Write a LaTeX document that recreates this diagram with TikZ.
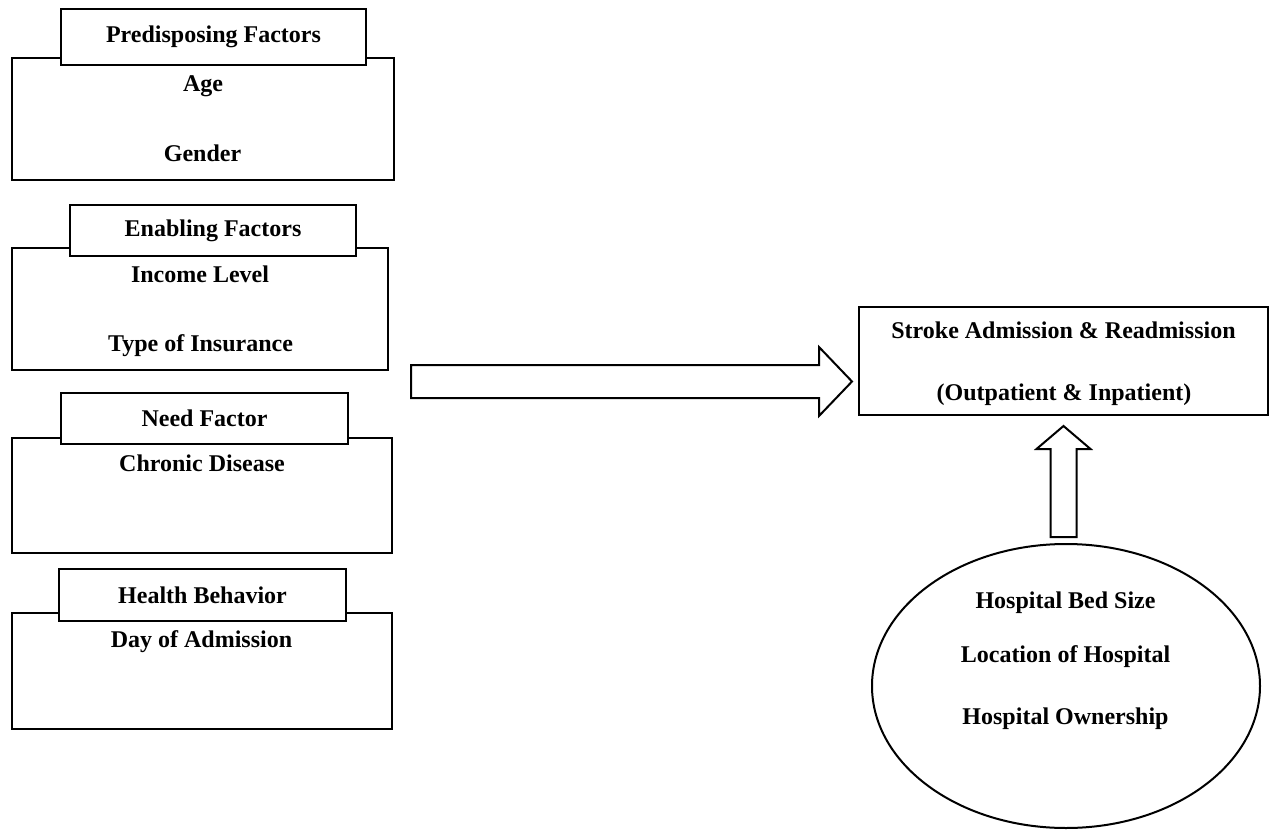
\documentclass[tikz,border=0pt]{standalone}
\usepackage{fontspec}
\setmainfont{Liberation Serif}
\usetikzlibrary{
    shapes.geometric,
    calc
}

\begin{document}
\begin{tikzpicture}[x=1pt, y=-1pt, line width=2pt,
    font=\fontsize{24}{28}\selectfont\bfseries,
    factor/.style={draw, inner sep=0pt, outer sep=0pt},
    header/.style={draw, fill=white, inner sep=0pt, outer sep=0pt},
    item/.style={anchor=base, inner sep=0pt}]
                        \useasboundingbox (0, 0) rectangle (1270, 830);

                        \node[factor, minimum width=382pt, minimum height=122pt] (pre) at (203, 119) {};
                        \node[header, minimum width=305pt, minimum height=56pt] (preh) at (213.5, 37) {Predisposing Factors};
                        \node[item] (age) at (203, 91) {Age};
                        \node[item] (gender) at (202.5, 161) {Gender};

                        \node[factor, minimum width=376pt, minimum height=122pt] (enb) at (200, 309) {};
                        \node[header, minimum width=286pt, minimum height=51pt] (enbh) at (213, 230.5) {Enabling Factors};
                        \node[item] (income) at (200, 282) {Income Level};
                        \node[item] (insur) at (200.5, 351) {Type of Insurance};

                        \node[factor, minimum width=380pt, minimum height=115pt] (need) at (202, 495.5) {};
                        \node[header, minimum width=287pt, minimum height=51pt] (needh) at (204.5, 418.5) {Need Factor};
                        \node[item] (chronic) at (202, 471) {Chronic Disease};

                        \node[factor, minimum width=380pt, minimum height=116pt] (hb) at (202, 671) {};
                        \node[header, minimum width=287pt, minimum height=52pt] (hbh) at (202.5, 595) {Health Behavior};
                        \node[item] (day) at (201.5, 647) {Day of Admission};

                        \node[factor, minimum width=409pt, minimum height=108pt] (stroke) at (1063.5, 361) {};
                        \node[item] (adm) at (1063.5, 338) {Stroke Admission \& Readmission};
                        \node[item] (pat) at (1064, 400) {(Outpatient \& Inpatient)};

                        \node[factor, ellipse, minimum width=388pt, minimum height=284pt] (hosp) at (1066, 686) {};
                        \node[item] (bed) at (1065.5, 608) {Hospital Bed Size};
                        \node[item] (loc) at (1065.5, 662) {Location of Hospital};
                        \node[item] (own) at (1065.5, 724) {Hospital Ownership};

                        \coordinate (a1tail) at (411, 381.5);
                        \coordinate (a1tip) at ($(stroke.west) + (-7, 20.5)$);
                        \draw (a1tail) ++(0, -16.5) -- ++(408, 0) -- ++(0, -18) -- (a1tip)
                            -- ++(-33, 34.5) -- ++(0, -18) -- ++(-408, 0) -- cycle;

                        \coordinate (a2tip) at ($(stroke.south) + (0, 11)$);
                        \coordinate (a2tail) at ($(hosp.north) + (-2.5, -7)$);
                        \draw (a2tail) ++(-13, 0) -- ++(0, -88) -- ++(-14, 0) -- (a2tip)
                            -- ++(27, 23) -- ++(-14, 0) -- ++(0, 88) -- cycle;
                    \end{tikzpicture}
\end{document}
